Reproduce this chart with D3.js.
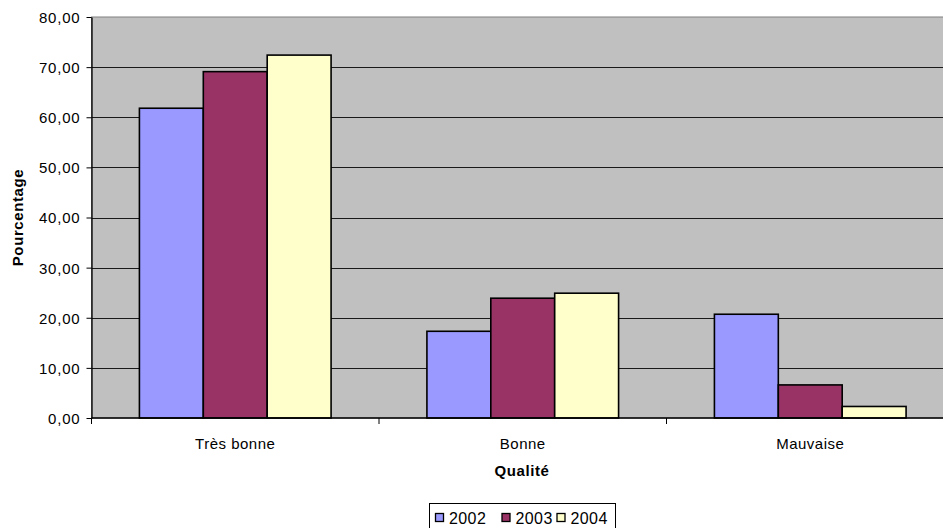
<!DOCTYPE html>
<html>
<head>
<meta charset="utf-8">
<script src="https://cdn.jsdelivr.net/npm/d3@7"></script>
<style>
  html, body { margin: 0; padding: 0; background: #ffffff; }
  svg { display: block; font-family: "Liberation Sans", Arial, sans-serif; }
  svg text { font-family: "Liberation Sans", Arial, sans-serif; fill: #000; }
</style>
</head>
<body>
<svg id="chart" width="943" height="528"></svg>
<script>
// Qualité perçue, pourcentage par année
const categories = ["Très bonne", "Bonne", "Mauvaise"];
const years = ["2002", "2003", "2004"];
const values2002 = [61.8, 17.3, 20.7];
const values2003 = [69.1, 23.9, 6.6];
const values2004 = [72.4, 24.9, 2.3];
const yTicks = [0, 10, 20, 30, 40, 50, 60, 70, 80];
const colors = ["#9999FF", "#993366", "#FFFFCC"];

const series = [values2002, values2003, values2004];

const svg = d3.select("#chart");
const plot = { left: 91.5, top: 17, right: 954, bottom: 418 };

const y = d3.scaleLinear().domain([0, 80]).range([plot.bottom, plot.top]);
const x0 = d3.scaleBand().domain(categories).range([plot.left, plot.right]).padding(0);
const groupW = x0.bandwidth() * 3 / 4.5;
const x1 = d3.scaleBand().domain(years).range([0, groupW]).padding(0);
const fmt = v => d3.format(".2f")(v).replace(".", ",");

// plot background
svg.append("rect")
  .attr("x", plot.left).attr("y", plot.top)
  .attr("width", plot.right - plot.left).attr("height", plot.bottom - plot.top)
  .attr("fill", "#C0C0C0").attr("stroke", "#808080").attr("stroke-width", 1);

// horizontal gridlines
svg.append("g").selectAll("line")
  .data(yTicks.filter(t => t > 0 && t < 80))
  .join("line")
  .attr("x1", plot.left).attr("x2", plot.right)
  .attr("y1", d => Math.round(y(d)) + 0.5).attr("y2", d => Math.round(y(d)) + 0.5)
  .attr("stroke", "#1a1a1a").attr("stroke-width", 1);

// bars
const groups = svg.append("g").selectAll("g")
  .data(categories)
  .join("g")
  .attr("transform", c => `translate(${x0(c) + (x0.bandwidth() - groupW) / 2},0)`);

groups.selectAll("rect")
  .data((c, i) => years.map((yr, j) => ({ yr, j, v: series[j][i] })))
  .join("rect")
  .attr("x", d => x1(d.yr))
  .attr("y", d => y(d.v))
  .attr("width", x1.bandwidth())
  .attr("height", d => y(0) - y(d.v))
  .attr("fill", d => colors[d.j])
  .attr("stroke", "#000").attr("stroke-width", 1.6);

// y axis
const yAxis = d3.axisLeft(y).tickValues(yTicks).tickFormat(fmt).tickSize(5).tickSizeOuter(0);
const gy = svg.append("g").attr("transform", `translate(${plot.left},0)`).call(yAxis);
gy.attr("font-family", null).attr("font-size", null);
gy.select(".domain").attr("stroke", "#000").attr("stroke-width", 1.3);
gy.selectAll(".tick line").attr("stroke", "#000");
gy.selectAll(".tick text")
  .attr("x", -11).attr("dy", "0.36em")
  .attr("font-size", 15).attr("letter-spacing", "0.8px");

// x axis: ticks at category boundaries
const gx = svg.append("g").attr("transform", `translate(0,${plot.bottom})`);
gx.append("line")
  .attr("x1", plot.left).attr("x2", plot.right)
  .attr("y1", 0).attr("y2", 0)
  .attr("stroke", "#000").attr("stroke-width", 1.6);
gx.selectAll("line.tk")
  .data(categories)
  .join("line").attr("class", "tk")
  .attr("x1", c => x0(c)).attr("x2", c => x0(c))
  .attr("y1", 0).attr("y2", 6)
  .attr("stroke", "#000");
gx.selectAll("text")
  .data(categories)
  .join("text")
  .attr("x", c => x0(c) + x0.bandwidth() / 2)
  .attr("y", 31)
  .attr("text-anchor", "middle")
  .attr("font-size", 15).attr("letter-spacing", "0.5px")
  .text(c => c);

// axis titles
svg.append("text")
  .attr("transform", `translate(23,${(plot.top + plot.bottom) / 2}) rotate(-90)`)
  .attr("text-anchor", "middle")
  .attr("font-size", 15).attr("font-weight", "bold").attr("letter-spacing", "0.6px")
  .text("Pourcentage");

svg.append("text")
  .attr("x", 522).attr("y", 476)
  .attr("text-anchor", "middle")
  .attr("font-size", 15).attr("font-weight", "bold").attr("letter-spacing", "0.6px")
  .text("Qualité");

// legend
const legend = svg.append("g");
legend.append("rect")
  .attr("x", 429.5).attr("y", 503.5).attr("width", 186).attr("height", 40)
  .attr("fill", "#fff").attr("stroke", "#000").attr("stroke-width", 1);
const legendX = [435, 501.5, 556.5];
const items = legend.selectAll("g")
  .data(years)
  .join("g")
  .attr("transform", (d, i) => `translate(${legendX[i]},0)`);
items.append("rect")
  .attr("x", 0.5).attr("y", 513.5).attr("width", 8).attr("height", 8)
  .attr("fill", (d, i) => colors[i]).attr("stroke", "#000").attr("stroke-width", 1.3);
items.append("text")
  .attr("x", 14).attr("y", 524)
  .attr("font-size", 16).attr("letter-spacing", "0.4px")
  .text(d => d);
</script>
</body>
</html>
